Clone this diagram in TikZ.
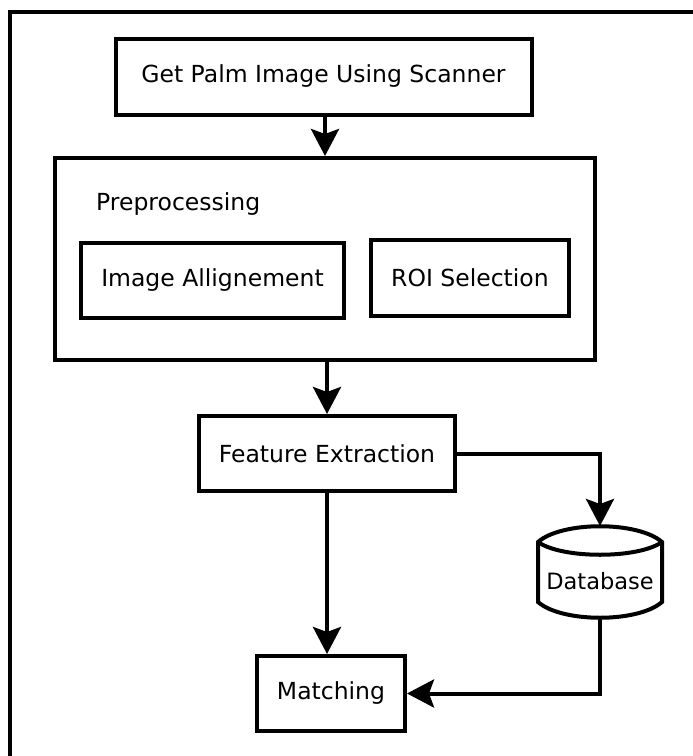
\documentclass[tikz,border=0pt]{standalone}
\usepackage{fontspec}
\setmainfont{DejaVu Sans}
\usetikzlibrary{arrows.meta,calc}

\begin{document}
\begin{tikzpicture}[x=1pt,y=-1pt,
  every node/.style={font=\fontsize{23.5}{28}\selectfont},
  box/.style={draw,line width=4pt,inner sep=0pt,align=center},
  arr/.style={line width=4pt,-{Stealth[length=27pt,width=28pt,inset=5pt]}},
  frame/.style={line width=4.5pt}
]
\useasboundingbox (0,0) rectangle (693,756);
\fill[white] (0,0) rectangle (693,756);

% outer frame (top and left edges)
\draw[frame] (10,760) -- (10,12) -- (700,12);

% process boxes
\node[box,minimum width=416pt,minimum height=76pt] (scan) at (323.5,76.5) {Get Palm Image Using Scanner};
\node[box,minimum width=540pt,minimum height=202pt] (pre) at (325,259) {};
\node[anchor=base west,inner sep=0pt] (prelabel) at (96,210) {Preprocessing};
\node[box,minimum width=263pt,minimum height=75pt] (align) at (212.5,280.5) {Image Allignement};
\node[box,minimum width=198pt,minimum height=76pt] (roi) at (470,278) {ROI Selection};
\node[box,minimum width=256pt,minimum height=75pt] (feat) at (327,453.5) {Feature Extraction};
\node[box,minimum width=148pt,minimum height=75pt] (match) at (331,693.5) {Matching};

% database drum
\node[inner sep=0pt,font=\fontsize{22.5}{27}\selectfont] (db) at (600,581) {Database};
\coordinate (dbtop) at ($(db.center)+(0,-55)$);
\coordinate (dbbot) at ($(db.center)+(0,37)$);
\coordinate (dbtl) at ($(db.center)+(-62,-39)$);
\coordinate (dbtr) at ($(db.center)+(62,-39)$);
\coordinate (dbbl) at ($(db.center)+(-62,21)$);
\coordinate (dbbr) at ($(db.center)+(62,21)$);
\draw[line width=4pt,line join=miter]
  (dbtl) .. controls ($(dbtl)+(24,-21)$) and ($(dbtr)+(-24,-21)$) .. (dbtr)
  -- (dbbr)
  .. controls ($(dbbr)+(-24,21)$) and ($(dbbl)+(24,21)$) .. (dbbl)
  -- cycle;
\draw[line width=4pt]
  (dbtl) .. controls ($(dbtl)+(24,17)$) and ($(dbtr)+(-24,17)$) .. (dbtr);

% connectors
\draw[arr] (scan.south -| pre.north) -- (pre.north);
\draw[arr] (pre.south -| feat.north) -- (feat.north);
\draw[arr] (feat.south) -- (feat.south |- match.north);
\draw[arr] (feat.east) -| (dbtop);
\draw[arr] (dbbot) |- (match.east);
\end{tikzpicture}
\end{document}
